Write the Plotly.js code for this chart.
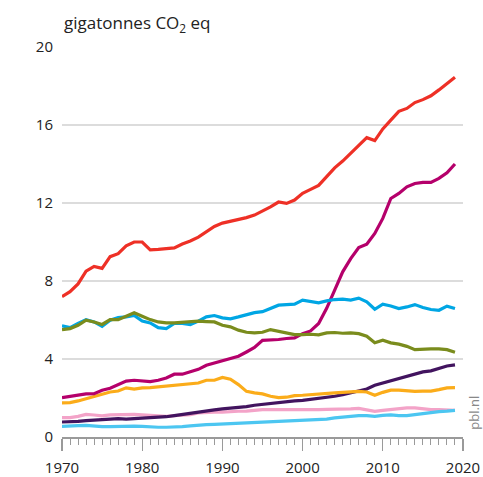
<!DOCTYPE html>
<html>
<head>
<meta charset="utf-8">
<script src="https://cdn.plot.ly/plotly-3.0.1.min.js"></script>
<style>
html,body{margin:0;padding:0;background:#fff;}
#chart{width:483px;height:477px;}
</style>
</head>
<body>
<div id="chart"></div>
<script>
const years = [1970,1971,1972,1973,1974,1975,1976,1977,1978,1979,
  1980,1981,1982,1983,1984,1985,1986,1987,1988,1989,
  1990,1991,1992,1993,1994,1995,1996,1997,1998,1999,
  2000,2001,2002,2003,2004,2005,2006,2007,2008,2009,
  2010,2011,2012,2013,2014,2015,2016,2017,2018,2019];

const redSeries = [7.2,7.45,7.85,8.5,8.75,8.65,9.25,9.4,9.8,10.0,
  10.0,9.6,9.62,9.65,9.7,9.9,10.05,10.25,10.55,10.8,
  10.97,11.05,11.15,11.25,11.38,11.58,11.8,12.05,11.98,12.15,
  12.5,12.7,12.9,13.35,13.8,14.15,14.55,14.95,15.35,15.2,
  15.8,16.25,16.7,16.85,17.15,17.3,17.5,17.8,18.15,18.45];

const magentaSeries = [2.02,2.09,2.16,2.21,2.22,2.4,2.5,2.7,2.87,2.91,
  2.89,2.84,2.91,3.03,3.22,3.22,3.35,3.47,3.68,3.8,
  3.88,4.02,4.14,4.36,4.59,4.96,4.96,5.0,5.05,5.08,
  5.3,5.44,5.82,6.6,7.53,8.47,9.15,9.72,9.89,10.44,
  11.21,12.23,12.49,12.83,13.0,13.06,13.06,13.26,13.55,14.0];

const blueSeries = [5.7,5.61,5.82,6.02,5.9,5.68,5.99,6.13,6.16,6.23,
  5.95,5.85,5.61,5.56,5.82,5.82,5.77,5.94,6.16,6.23,
  6.11,6.06,6.16,6.28,6.38,6.43,6.59,6.76,6.79,6.81,
  7.02,6.93,6.88,6.98,7.05,7.07,7.02,7.12,6.93,6.55,
  6.81,6.72,6.59,6.67,6.79,6.64,6.54,6.5,6.71,6.59];

const oliveSeries = [5.51,5.56,5.73,5.99,5.9,5.77,6.02,6.02,6.19,6.37,
  6.19,6.02,5.9,5.85,5.85,5.89,5.92,5.94,5.92,5.9,
  5.73,5.65,5.48,5.37,5.34,5.37,5.51,5.41,5.34,5.25,
  5.25,5.27,5.24,5.34,5.36,5.32,5.34,5.3,5.17,4.83,
  4.96,4.83,4.76,4.65,4.48,4.52,4.52,4.52,4.48,4.35];

const orangeSeries = [1.75,1.76,1.85,1.97,2.09,2.22,2.31,2.36,2.52,2.46,
  2.52,2.53,2.57,2.6,2.64,2.67,2.72,2.77,2.91,2.91,
  3.05,2.96,2.69,2.34,2.26,2.21,2.09,2.02,2.04,2.12,
  2.14,2.16,2.19,2.24,2.26,2.29,2.33,2.34,2.31,2.14,
  2.29,2.4,2.4,2.36,2.34,2.35,2.35,2.43,2.52,2.53];

const purpleSeries = [0.77,0.77,0.8,0.84,0.87,0.91,0.92,0.94,0.92,0.94,
  0.98,1.01,1.03,1.04,1.1,1.15,1.2,1.27,1.33,1.39,
  1.44,1.47,1.51,1.56,1.63,1.68,1.71,1.76,1.81,1.85,
  1.88,1.93,1.97,2.03,2.09,2.17,2.28,2.38,2.46,2.65,
  2.77,2.89,3.01,3.11,3.25,3.34,3.39,3.51,3.64,3.7];

const pinkSeries = [0.99,0.99,1.06,1.16,1.13,1.08,1.13,1.15,1.15,1.16,
  1.13,1.11,1.08,1.06,1.1,1.11,1.14,1.23,1.27,1.28,
  1.28,1.32,1.32,1.33,1.37,1.4,1.4,1.4,1.37,1.39,
  1.4,1.4,1.4,1.42,1.42,1.44,1.44,1.47,1.4,1.32,
  1.37,1.42,1.45,1.49,1.49,1.44,1.4,1.4,1.4,1.37];

const cyanSeries = [0.55,0.55,0.58,0.6,0.56,0.53,0.53,0.55,0.55,0.56,
  0.55,0.51,0.5,0.5,0.5,0.53,0.57,0.62,0.63,0.65,
  0.67,0.68,0.7,0.72,0.74,0.75,0.77,0.79,0.8,0.82,
  0.86,0.86,0.89,0.92,0.98,1.03,1.06,1.1,1.1,1.06,
  1.11,1.13,1.1,1.1,1.15,1.21,1.27,1.3,1.33,1.37];

const yTicks = [0,4,8,12,16,20];
const xTicks = [1970,1980,1990,2000,2010,2020];
const titleText = 'gigatonnes CO<sub>2</sub> eq';
const sourceText = 'pbl.nl';

const series = [
  {y: pinkSeries, color: '#f3a3c8'},
  {y: cyanSeries, color: '#4cc6f1'},
  {y: purpleSeries, color: '#42145f'},
  {y: orangeSeries, color: '#fbac1a'},
  {y: magentaSeries, color: '#b5006b'},
  {y: blueSeries, color: '#00a6e4'},
  {y: oliveSeries, color: '#7a8c1d'},
  {y: redSeries, color: '#ee3026'}
];

const traces = series.map(s => ({
  x: years, y: s.y, type: 'scatter', mode: 'lines',
  line: {color: s.color, width: 3.2},
  hoverinfo: 'skip', showlegend: false
}));

const fontFam = '"Open Sans", "Noto Sans", sans-serif';

const layout = {
  width: 483, height: 477,
  margin: {l: 62, r: 20, t: 47, b: 40, pad: 0},
  paper_bgcolor: '#fff', plot_bgcolor: '#fff',
  font: {family: fontFam, color: '#222', size: 15},
  showlegend: false,
  xaxis: {
    range: [1970, 2020], tickvals: xTicks, ticktext: xTicks.map(String),
    showgrid: false, zeroline: false,
    showline: true, linecolor: '#9a9a9a', linewidth: 1.5,
    ticks: 'outside', ticklen: 12, tickwidth: 1.2, tickcolor: '#9a9a9a',
    minor: {dtick: 1, tick0: 1970, ticks: 'outside', ticklen: 6, tickwidth: 1, tickcolor: '#9a9a9a', showgrid: false},
    ticklabelstandoff: 4,
    tickfont: {size: 15, color: '#222'},
    automargin: false, fixedrange: true
  },
  yaxis: {
    range: [0, 20], tickvals: yTicks, ticktext: yTicks.map(String),
    showgrid: true, gridcolor: '#dcdcdc', gridwidth: 1.5,
    zeroline: false, showline: false, ticks: '',
    ticklabelstandoff: 8,
    tickfont: {size: 15, color: '#222'},
    automargin: false, fixedrange: true
  },
  annotations: [
    {text: titleText, xref: 'paper', yref: 'paper', x: 0, y: 1, xanchor: 'left', yanchor: 'middle',
     yshift: 24, showarrow: false, font: {size: 17, color: '#222', family: fontFam}},
    {text: sourceText, xref: 'paper', yref: 'paper', x: 1.028, y: 0.063, xanchor: 'center', yanchor: 'middle',
     textangle: -90, showarrow: false, borderpad: 0, font: {size: 13, color: '#888', family: fontFam}}
  ]
};

Plotly.newPlot('chart', traces, layout, {staticPlot: true, displayModeBar: false});
</script>
</body>
</html>
